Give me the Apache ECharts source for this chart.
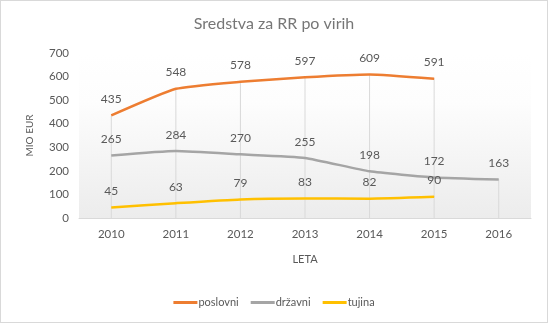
<!DOCTYPE html>
<html><head><meta charset="utf-8">
<script src="https://cdn.jsdelivr.net/npm/echarts@6/dist/echarts.min.js"></script>
<style>
html,body{margin:0;padding:0;background:#fff;}
#c{width:548px;height:323px;box-sizing:border-box;border:1px solid #d9d9d9;}
</style></head>
<body><div id="c"></div>
<script>
const years = ['2010','2011','2012','2013','2014','2015','2016'];
const poslovni = [435, 548, 578, 597, 609, 591, null];
const drzavni = [265, 284, 270, 255, 198, 172, 163];
const tujina = [45, 63, 79, 83, 82, 90, null];
const seriesNames = ['poslovni', 'državni', 'tujina'];
const yTicks = [0, 700, 100];

const dropTop = years.map((_, i) => Math.max(...[poslovni[i], drzavni[i], tujina[i]].filter(v => v != null)));

const font = 'Lato, "Open Sans", sans-serif';
const chart = echarts.init(document.getElementById('c'), null, {renderer: 'canvas'});
const lbl = {show: true, position: 'top', distance: 10, color: '#595959', fontSize: 12, fontFamily: font};
function lineSeries(name, data, color) {
  return {name, type: 'line', data, smooth: 0.15, showSymbol: true, symbol: 'circle', symbolSize: 0.5,
    lineStyle: {color, width: 2.5}, itemStyle: {color}, label: lbl, z: 3, connectNulls: false,
    labelLayout: {hideOverlap: false}};
}
chart.setOption({
  animation: false,
  title: {text: 'Sredstva za RR po virih', left: 'center', top: 10,
    textStyle: {color: '#767676', fontSize: 16, fontWeight: 'normal', fontFamily: font}},
  legend: {data: seriesNames, bottom: 9, left: 'center', itemWidth: 24, itemHeight: 3, itemGap: 12,
    icon: 'rect', textStyle: {color: '#595959', fontSize: 11, fontFamily: font, padding: [0,0,0,-4]}},
  grid: {left: 78, right: 16, top: 52, bottom: 104, show: true, borderWidth: 0,
    backgroundColor: new echarts.graphic.LinearGradient(0, 0, 0, 1, [
      {offset: 0, color: '#ffffff'}, {offset: 0.3, color: '#fdfdfd'}, {offset: 1, color: '#ececec'}])},
  xAxis: {type: 'category', data: years, boundaryGap: true, name: 'LETA', nameLocation: 'middle', nameGap: 36,
    nameTextStyle: {color: '#595959', fontSize: 11, fontFamily: font},
    axisLine: {lineStyle: {color: '#d9d9d9', width: 1}}, axisTick: {show: false},
    axisLabel: {color: '#595959', fontSize: 11.5, fontFamily: font, margin: 10}},
  yAxis: {type: 'value', min: yTicks[0], max: yTicks[1], interval: yTicks[2], name: 'MIO EUR', nameLocation: 'middle', nameGap: 44,
    nameTextStyle: {color: '#595959', fontSize: 10, fontFamily: font},
    axisLine: {show: false}, axisTick: {show: false}, splitLine: {show: false},
    axisLabel: {color: '#595959', fontSize: 11.5, fontFamily: font, margin: 10}},
  series: [
    {name: 'drop', type: 'bar', data: dropTop, barWidth: 1, silent: true, z: 1,
      itemStyle: {color: '#d9d9d9'}, label: {show: false}},
    lineSeries(seriesNames[0], poslovni, '#ED7D31'),
    lineSeries(seriesNames[1], drzavni, '#A5A5A5'),
    lineSeries(seriesNames[2], tujina, '#FFC000')
  ]
});
</script></body></html>
